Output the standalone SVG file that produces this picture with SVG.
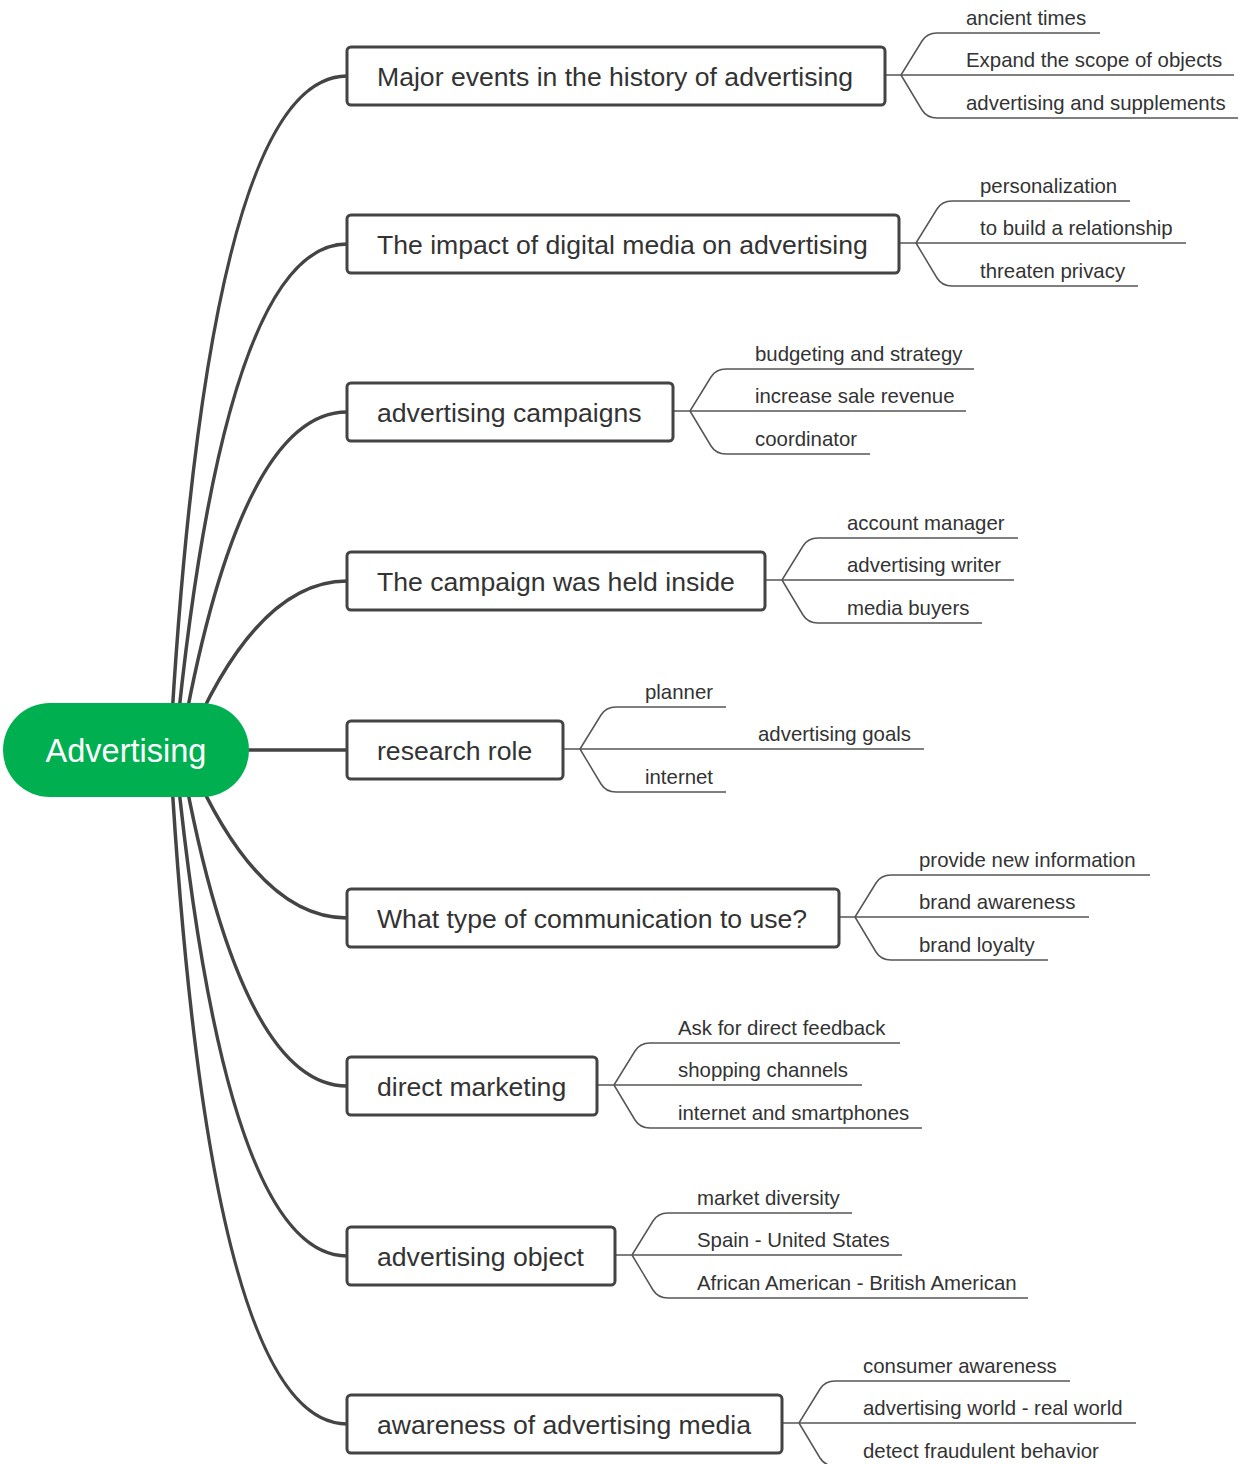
<svg xmlns="http://www.w3.org/2000/svg" width="1240" height="1464" viewBox="0 0 1240 1464">
<style>
.bg{fill:#ffffff}
.main{fill:none;stroke:#444444;stroke-width:3.5;stroke-linecap:round}
.leafc{fill:none;stroke:#555555;stroke-width:1.5}
.box{fill:#ffffff;stroke:#444444;stroke-width:3}
.root{fill:#00B050}
.rt{font-family:"Liberation Sans",Arial,sans-serif;font-size:32.5px;fill:#ffffff}
.bt{font-family:"Liberation Sans",Arial,sans-serif;font-size:26.6px;fill:#333333}
.lt{font-family:"Liberation Sans",Arial,sans-serif;font-size:20.4px;fill:#333333}
</style>
<rect class="bg" x="0" y="0" width="1240" height="1464"/>
<g id="connectors">
<path class="main" d="M 170 750 Q 208 76 347 76"/>
<path class="main" d="M 175 750 Q 224 244 347 244"/>
<path class="main" d="M 180 750 Q 239 412 347 412"/>
<path class="main" d="M 185 750 Q 255 581 347 581"/>
<path class="main" d="M 248 750 L 347 750"/>
<path class="main" d="M 185 750 Q 255 918 347 918"/>
<path class="main" d="M 180 750 Q 239 1086 347 1086"/>
<path class="main" d="M 175 750 Q 224 1256 347 1256"/>
<path class="main" d="M 170 750 Q 208 1424 347 1424"/>

<path class="leafc" d="M 901 75 L 922 41 Q 927 33 937 33 H 1100"/>
<path class="leafc" d="M 885 75 H 1234"/>
<path class="leafc" d="M 901 75 L 922 110 Q 927 118 937 118 H 1238"/>

<path class="leafc" d="M 916 243 L 937 209 Q 942 201 952 201 H 1130"/>
<path class="leafc" d="M 899 243 H 1186"/>
<path class="leafc" d="M 916 243 L 937 278 Q 942 286 952 286 H 1138"/>

<path class="leafc" d="M 690 411 L 711 377 Q 716 369 726 369 H 974"/>
<path class="leafc" d="M 673 411 H 966"/>
<path class="leafc" d="M 690 411 L 711 446 Q 716 454 726 454 H 870"/>

<path class="leafc" d="M 782 580 L 803 546 Q 808 538 818 538 H 1018"/>
<path class="leafc" d="M 765 580 H 1014"/>
<path class="leafc" d="M 782 580 L 803 615 Q 808 623 818 623 H 982"/>

<path class="leafc" d="M 580 749 L 601 715 Q 606 707 616 707 H 726"/>
<path class="leafc" d="M 563 749 H 924"/>
<path class="leafc" d="M 580 749 L 601 784 Q 606 792 616 792 H 726"/>

<path class="leafc" d="M 855 917 L 876 883 Q 881 875 891 875 H 1150"/>
<path class="leafc" d="M 839 917 H 1089"/>
<path class="leafc" d="M 855 917 L 876 952 Q 881 960 891 960 H 1048"/>

<path class="leafc" d="M 614 1085 L 635 1051 Q 640 1043 650 1043 H 900"/>
<path class="leafc" d="M 597 1085 H 862"/>
<path class="leafc" d="M 614 1085 L 635 1120 Q 640 1128 650 1128 H 922"/>

<path class="leafc" d="M 632 1255 L 653 1221 Q 658 1213 668 1213 H 852"/>
<path class="leafc" d="M 615 1255 H 902"/>
<path class="leafc" d="M 632 1255 L 653 1290 Q 658 1298 668 1298 H 1028"/>

<path class="leafc" d="M 799 1423 L 820 1389 Q 825 1381 835 1381 H 1070"/>
<path class="leafc" d="M 782 1423 H 1136"/>
<path class="leafc" d="M 799 1423 L 820 1458 Q 825 1466 835 1466 H 1112"/>
</g>

<g id="root">
<rect class="root" x="3" y="703" width="246" height="94" rx="47"/>
<text class="rt" x="126" y="761.5" text-anchor="middle">Advertising</text>
</g>

<g id="b1">
<rect class="box" x="347" y="47" width="538" height="58" rx="4"/>
<text class="bt" x="377" y="86">Major events in the history of advertising</text>
</g>
<g id="b2">
<rect class="box" x="347" y="215" width="552" height="58" rx="4"/>
<text class="bt" x="377" y="254">The impact of digital media on advertising</text>
</g>
<g id="b3">
<rect class="box" x="347" y="383" width="326" height="58" rx="4"/>
<text class="bt" x="377" y="422">advertising campaigns</text>
</g>
<g id="b4">
<rect class="box" x="347" y="552" width="418" height="58" rx="4"/>
<text class="bt" x="377" y="591">The campaign was held inside</text>
</g>
<g id="b5">
<rect class="box" x="347" y="721" width="216" height="58" rx="4"/>
<text class="bt" x="377" y="760">research role</text>
</g>
<g id="b6">
<rect class="box" x="347" y="889" width="492" height="58" rx="4"/>
<text class="bt" x="377" y="928">What type of communication to use?</text>
</g>
<g id="b7">
<rect class="box" x="347" y="1057" width="250" height="58" rx="4"/>
<text class="bt" x="377" y="1096">direct marketing</text>
</g>
<g id="b8">
<rect class="box" x="347" y="1227" width="268" height="58" rx="4"/>
<text class="bt" x="377" y="1266">advertising object</text>
</g>
<g id="b9">
<rect class="box" x="347" y="1395" width="435" height="58" rx="4"/>
<text class="bt" x="377" y="1434">awareness of advertising media</text>
</g>

<g id="leaf-b1-1"><text class="lt" x="966" y="25">ancient times</text></g>
<g id="leaf-b1-2"><text class="lt" x="966" y="67">Expand the scope of objects</text></g>
<g id="leaf-b1-3"><text class="lt" x="966" y="110">advertising and supplements</text></g>

<g id="leaf-b2-1"><text class="lt" x="980" y="193">personalization</text></g>
<g id="leaf-b2-2"><text class="lt" x="980" y="235">to build a relationship</text></g>
<g id="leaf-b2-3"><text class="lt" x="980" y="278">threaten privacy</text></g>

<g id="leaf-b3-1"><text class="lt" x="755" y="361">budgeting and strategy</text></g>
<g id="leaf-b3-2"><text class="lt" x="755" y="403">increase sale revenue</text></g>
<g id="leaf-b3-3"><text class="lt" x="755" y="446">coordinator</text></g>

<g id="leaf-b4-1"><text class="lt" x="847" y="530">account manager</text></g>
<g id="leaf-b4-2"><text class="lt" x="847" y="572">advertising writer</text></g>
<g id="leaf-b4-3"><text class="lt" x="847" y="615">media buyers</text></g>

<g id="leaf-b5-1"><text class="lt" x="645" y="699">planner</text></g>
<g id="leaf-b5-2"><text class="lt" x="758" y="741">advertising goals</text></g>
<g id="leaf-b5-3"><text class="lt" x="645" y="784">internet</text></g>

<g id="leaf-b6-1"><text class="lt" x="919" y="867">provide new information</text></g>
<g id="leaf-b6-2"><text class="lt" x="919" y="909">brand awareness</text></g>
<g id="leaf-b6-3"><text class="lt" x="919" y="952">brand loyalty</text></g>

<g id="leaf-b7-1"><text class="lt" x="678" y="1035">Ask for direct feedback</text></g>
<g id="leaf-b7-2"><text class="lt" x="678" y="1077">shopping channels</text></g>
<g id="leaf-b7-3"><text class="lt" x="678" y="1120">internet and smartphones</text></g>

<g id="leaf-b8-1"><text class="lt" x="697" y="1205">market diversity</text></g>
<g id="leaf-b8-2"><text class="lt" x="697" y="1247">Spain - United States</text></g>
<g id="leaf-b8-3"><text class="lt" x="697" y="1290">African American - British American</text></g>

<g id="leaf-b9-1"><text class="lt" x="863" y="1373">consumer awareness</text></g>
<g id="leaf-b9-2"><text class="lt" x="863" y="1415">advertising world - real world</text></g>
<g id="leaf-b9-3"><text class="lt" x="863" y="1458">detect fraudulent behavior</text></g>
</svg>
